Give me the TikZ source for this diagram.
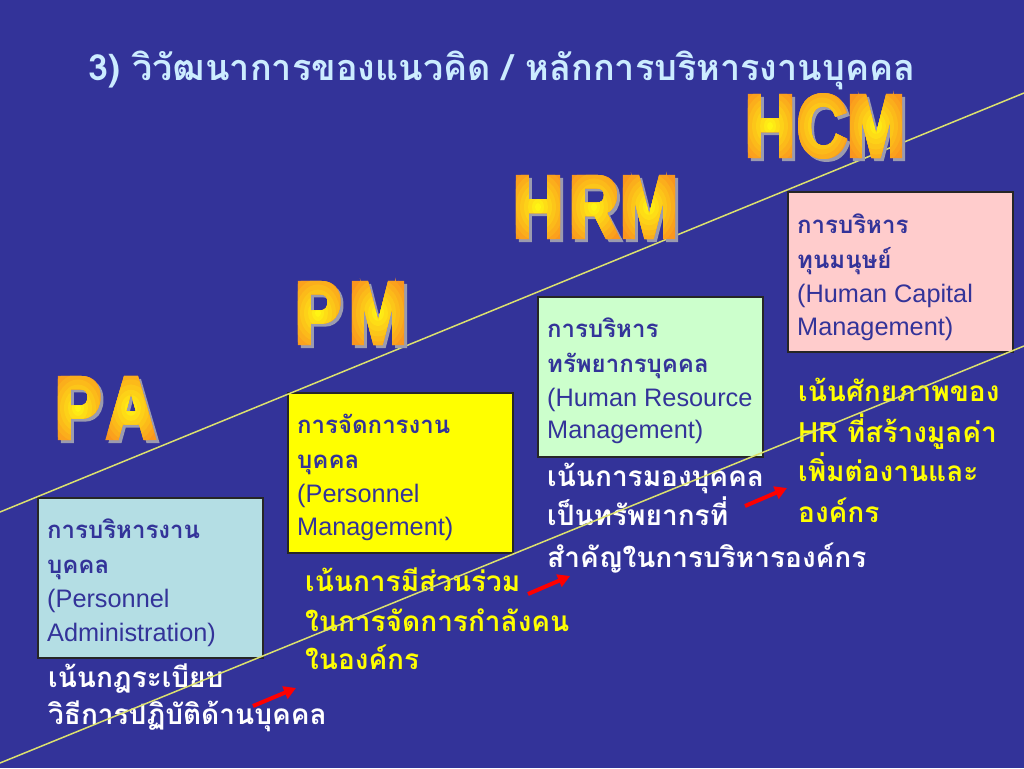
\documentclass[tikz,border=0pt]{standalone}
\usepackage{fontspec}
\usetikzlibrary{arrows.meta}
\newfontfamily\thai[Script=Thai]{Loma}
\newfontfamily\eng{Liberation Sans}
\newfontfamily\bigf[FakeBold=4]{Liberation Sans Bold}
\definecolor{bg}{RGB}{51,51,153}
\definecolor{ttl}{RGB}{204,236,255}
\definecolor{navy}{RGB}{51,51,153}
\definecolor{boxPA}{RGB}{180,222,228}
\definecolor{boxPM}{RGB}{255,255,0}
\definecolor{boxHRM}{RGB}{204,255,204}
\definecolor{boxHCM}{RGB}{255,204,204}
\definecolor{capyel}{RGB}{255,255,0}
\definecolor{linecol}{RGB}{220,225,110}
\definecolor{letorange}{RGB}{250,150,30}
\definecolor{letyellow}{RGB}{255,245,20}
\definecolor{shadowgray}{RGB}{155,155,175}
\newcommand\bigfont{\bigf\fontsize{88}{88}\selectfont}
\newcommand\lscale{0.8}
\newcommand\bigletter[3]{%
  \node[lettr, text=shadowgray] (sh-#1-#2) at (#2+3,#3+3) {\scalebox{\lscale}[1]{#1}};
  \node[lettr, text=letorange] (l0-#1-#2) at (#2,#3) {\scalebox{\lscale}[1]{#1}};
  \foreach \r/\p [count=\k] in {30/12,26/25,22/38,18/50,14/62,10/75,6/88,3/100}{
    \begin{scope}
      \clip (#2,#3) ellipse [x radius=\r pt, y radius=1.3*\r pt];
      \node[lettr, text=letyellow!\p!letorange] (l\k-#1-#2) at (#2,#3) {\scalebox{\lscale}[1]{#1}};
    \end{scope}
  }
}
\begin{document}
\begin{tikzpicture}[x=1pt,y=-1pt,
  box/.style={draw=black!85, line width=1.5pt, anchor=north west, minimum width=225, minimum height=160, inner sep=0pt},
  bthai/.style={anchor=base west, inner sep=0pt, text=navy, font=\thai\bfseries\fontsize{24}{28}\selectfont},
  beng/.style={anchor=base west, inner sep=0pt, text=navy, font=\eng\fontsize{25.3}{30}\selectfont},
  capw/.style={anchor=base west, inner sep=0pt, text=white, font=\thai\bfseries\fontsize{28}{32}\selectfont},
  capy/.style={capw, text=capyel},
  diag/.style={draw=linecol, line width=1.5pt},
  lettr/.style={inner sep=0pt, font=\bigfont},
  redarrow/.style={draw=red, line width=4pt, -{Triangle[length=12pt,width=13pt]}}
]
\fill[bg] (0,0) rectangle (1024,768);
\useasboundingbox (0,0) rectangle (1024,768);
% title
\node[anchor=base west, inner sep=0pt, text=ttl, font=\thai\bfseries\fontsize{36}{40}\selectfont] (title) at (88,80) {3) วิวัฒนาการของแนวคิด / หลักการบริหารงานบุคคล};
% boxes
\node[box, fill=boxPA] (bPA) at (37,497) {};
\node[box, fill=boxPM] (bPM) at (287,392) {};
\node[box, fill=boxHRM] (bHRM) at (537,296) {};
\node[box, fill=boxHCM] (bHCM) at (787,191) {};
% box texts
\node[bthai] (pa1) at (47,538) {การบริหารงาน};
\node[bthai] (pa2) at (47,573) {บุคคล};
\node[beng] (pa3) at (47,607) {(Personnel};
\node[beng] (pa4) at (47,641) {Administration)};
\node[bthai] (pm1) at (297,433) {การจัดการงาน};
\node[bthai] (pm2) at (297,468) {บุคคล};
\node[beng] (pm3) at (297,502) {(Personnel};
\node[beng] (pm4) at (297,535) {Management)};
\node[bthai] (hr1) at (547,337) {การบริหาร};
\node[bthai] (hr2) at (547,372) {ทรัพยากรบุคคล};
\node[beng] (hr3) at (547,406) {(Human Resource};
\node[beng] (hr4) at (547,438) {Management)};
\node[bthai] (hc1) at (797,233) {การบริหาร};
\node[bthai] (hc2) at (797,268) {ทุนมนุษย์};
\node[beng] (hc3) at (797,302) {(Human Capital};
\node[beng] (hc4) at (797,335) {Management)};
% captions
\node[capw] (c11) at (48,687) {เน้นกฎระเบียบ};
\node[capw] (c12) at (48,724) {วิธีการปฏิบัติด้านบุคคล};
\node[capy] (c21) at (305,591) {เน้นการมีส่วนร่วม};
\node[capy] (c22) at (305,631) {ในการจัดการกำลังคน};
\node[capy] (c23) at (305,669) {ในองค์กร};
\node[capw] (c31) at (547,486) {เน้นการมองบุคคล};
\node[capw] (c32) at (547,525) {เป็นทรัพยากรที่};
\node[capw] (c33) at (547,567) {สำคัญในการบริหารองค์กร};
\node[capy] (c41) at (798,401) {เน้นศักยภาพของ};
\node[capy] (c42) at (798,442) {HR ที่สร้างมูลค่า};
\node[capy] (c43) at (798,481) {เพิ่มต่องานและ};
\node[capy] (c44) at (798,522) {องค์กร};
% diagonal lines
\coordinate (u0) at (0,512); \coordinate (u1) at (1024,93);
\coordinate (d0) at (0,763); \coordinate (d1) at (1024,346);
\draw[diag] (u0) -- (u1);
\draw[diag] (d0) -- (d1);
% big letters
\bigletter{P}{78}{408}\bigletter{A}{131}{408}
\bigletter{P}{318}{313}\bigletter{M}{378}{313}
\bigletter{H}{538}{207}\bigletter{R}{594}{207}\bigletter{M}{649}{207}
\bigletter{H}{770}{126}\bigletter{C}{822}{126}\bigletter{M}{876}{126}
% red arrows
\coordinate (a1s) at (253,706); \coordinate (a1e) at (296,688);
\coordinate (a2s) at (528,594); \coordinate (a2e) at (570,576);
\coordinate (a3s) at (745,506); \coordinate (a3e) at (787,488);
\draw[redarrow] (a1s) -- (a1e);
\draw[redarrow] (a2s) -- (a2e);
\draw[redarrow] (a3s) -- (a3e);
\end{tikzpicture}
\end{document}
